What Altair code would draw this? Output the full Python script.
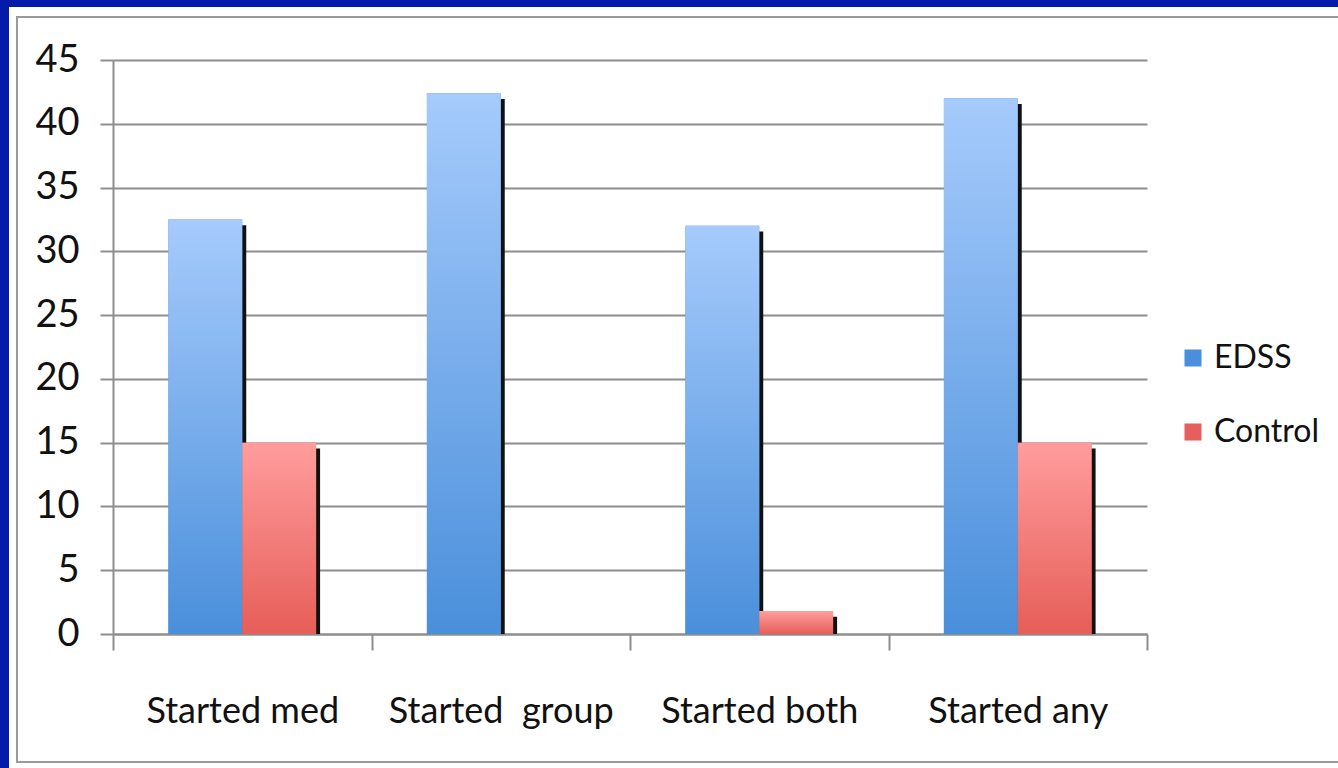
import altair as alt
import pandas as pd

# Survey outcomes: percent of each group that started a treatment
categories = ["Started med", "Started\u00a0 group", "Started both", "Started any"]
series_names = ["EDSS", "Control"]
edss_values = [32.5, 42.4, 32.0, 42.0]
control_values = [15.0, 0.0, 1.8, 15.0]

rows = []
for cat, e, c in zip(categories, edss_values, control_values):
    rows.append({"category": cat, "series": "EDSS", "value": e})
    rows.append({"category": cat, "series": "Control", "value": c})
df = pd.DataFrame(rows)

FONT = "Lato"
GRID = "#8e8e8e"
BLUE = "#4a8fdb"
RED = "#e65f5c"
FRAME_BLUE = "#041ba9"

W, H = 1034, 574
PAD = {"left": 113, "top": 60, "right": 191, "bottom": 134}

x_enc = alt.X(
    "category:N",
    sort=categories,
    scale=alt.Scale(paddingInner=0, paddingOuter=0),
    axis=alt.Axis(
        title=None,
        labelAngle=0,
        labelFont=FONT,
        labelFontSize=36,
        labelColor="#111111",
        labelPadding=44,
        labelLimit=0,
        tickBand="extent",
        tickSize=16,
        tickColor=GRID,
        tickWidth=2,
        domainColor=GRID,
        domainWidth=2,
        grid=False,
    ),
)
y_scale = alt.Scale(domain=[0, 45], nice=False)
y_axis = alt.Axis(
    title=None,
    values=list(range(0, 50, 5)),
    labelFont=FONT,
    labelFontSize=38,
    labelColor="#111111",
    labelPadding=21,
    tickSize=13,
    tickColor=GRID,
    tickWidth=2,
    domainColor=GRID,
    domainWidth=2,
    gridColor=GRID,
    gridWidth=2,
)


def offset_enc(align):
    return alt.XOffset(
        "series:N",
        sort=series_names,
        scale=alt.Scale(
            domain=series_names, paddingOuter=0.75, paddingInner=0, align=align
        ),
    )


# Blue slide border strips and the thin grey frame around the slide panel
one = pd.DataFrame({"k": [0]})
border_left = alt.Chart(one).mark_rect(color=FRAME_BLUE, clip=False).encode(
    x=alt.value(-113), x2=alt.value(-104), y=alt.value(-60), y2=alt.value(708)
)
border_top = alt.Chart(one).mark_rect(color=FRAME_BLUE, clip=False).encode(
    x=alt.value(-113), x2=alt.value(1225), y=alt.value(-60), y2=alt.value(-53)
)
frame = alt.Chart(one).mark_rect(
    fill="transparent", stroke="#9a9a9a", strokeWidth=2, clip=False
).encode(x=alt.value(-96), x2=alt.value(1240), y=alt.value(-43), y2=alt.value(702))

# Drop shadow: same bars nudged right and starting a little lower
shadow = (
    alt.Chart(df)
    .transform_filter("datum.value > 0")
    .transform_calculate(top="datum.value - 0.45")
    .mark_bar(color="#111111")
    .encode(
        x=x_enc,
        xOffset=offset_enc(0.536),
        y=alt.Y("top:Q", scale=y_scale, axis=y_axis),
        y2=alt.datum(0),
    )
)

base = alt.Chart(df).encode(
    x=x_enc, xOffset=offset_enc(0.5), y=alt.Y("value:Q", scale=y_scale, axis=y_axis)
)

bars = base.mark_bar().encode(
    color=alt.Color(
        "series:N",
        sort=series_names,
        scale=alt.Scale(domain=series_names, range=[BLUE, RED]),
        legend=alt.Legend(
            title=None,
            orient="none",
            legendX=1064,
            legendY=282,
            labelFont=FONT,
            labelFontSize=32,
            labelColor="#111111",
            symbolType="square",
            symbolSize=290,
            symbolStrokeWidth=0,
            rowPadding=42,
            labelOffset=5,
        ),
    )
)


def gradient(top, bottom):
    return {
        "gradient": "linear",
        "x1": 0, "x2": 0, "y1": 0, "y2": 1,
        "stops": [
            {"offset": 0, "color": top},
            {"offset": 1, "color": bottom},
        ],
    }


edss_fill = base.transform_filter("datum.series == 'EDSS'").mark_bar(
    color=gradient("#a6cbfc", "#4a8fdb")
)
control_fill = base.transform_filter(
    "datum.series == 'Control' && datum.value > 0"
).mark_bar(color=gradient("#ff9d9d", "#e65e58"))

main = alt.layer(bars, edss_fill, control_fill)

chart = (
    alt.layer(border_left, border_top, frame, shadow, main)
    .resolve_scale(xOffset="independent")
    .properties(
        width=W,
        height=H,
        padding=PAD,
        autosize=alt.AutoSizeParams(type="none"),
        background="white",
    )
    .configure_view(stroke=None)
)

chart.save("out.html", embed_options={"renderer": "svg", "actions": False})
